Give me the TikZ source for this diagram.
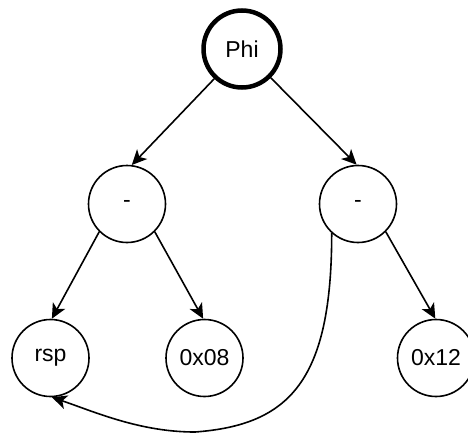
\documentclass[tikz,border=0pt]{standalone}
\usepackage{fontspec}
\setmainfont{Liberation Sans}
\usetikzlibrary{arrows.meta}
\begin{document}
\begin{tikzpicture}[x=1pt,y=1pt,
  vnode/.style={circle,draw=black,line width=1.6pt,minimum size=77pt,inner sep=0pt,font=\fontsize{23}{27}\selectfont},
  thicknode/.style={vnode,line width=4.5pt},
  arr/.style={line width=1.6pt,-{Stealth[length=15pt,width=14pt,inset=4pt]}}]
\useasboundingbox (0,0) rectangle (468,-434);
\node[thicknode] (phi) at (242,-49) {Phi};
\node[vnode] (l) at (127,-204) {-};
\node[vnode] (r) at (358,-204) {-};
\node[vnode] (rsp) at (50.5,-358) {rsp};
\node[vnode] (c08) at (204.5,-358) {0x08};
\node[vnode] (c12) at (436,-358) {0x12};
\draw[arr] (phi.227) -- (l.83);
\draw[arr] (phi.315) -- (r.92);
\draw[arr] (l.225) -- (rsp.88);
\draw[arr] (l.315) -- (c08.92);
\draw[arr] (r.315) -- (c12.91);
\draw[arr] (r.228) .. controls ++(0,-147) and (290,-425) .. (195,-432)
  .. controls (140,-432) and (95,-412) .. (rsp.-88);
\end{tikzpicture}
\end{document}
